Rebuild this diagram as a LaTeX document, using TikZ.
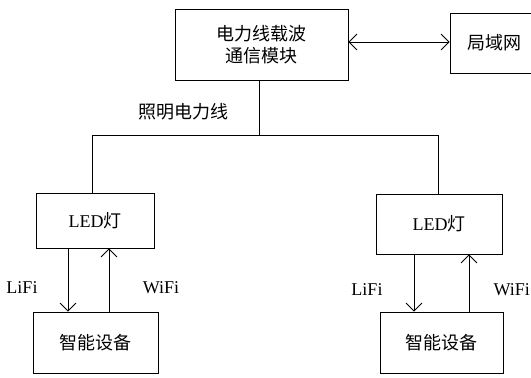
\documentclass[tikz,border=0pt]{standalone}
\usepackage{fontspec}
\setmainfont{Liberation Serif}
\newfontfamily\cjk{Noto Sans CJK SC}
\usetikzlibrary{arrows.meta}
\begin{document}
\begin{tikzpicture}[x=1pt,y=-1pt,
  box/.style={draw,line width=0.8pt,inner sep=0pt,font=\fontsize{18}{23}\selectfont},
  conn/.style={line width=0.8pt},
  arr/.style={line width=0.8pt,-{Straight Barb[length=8pt,width=16pt]}},
  dblarr/.style={line width=0.8pt,{Straight Barb[length=8pt,width=16pt]}-{Straight Barb[length=8pt,width=16pt]}},
  lbl/.style={inner sep=0pt,font=\fontsize{18}{23}\selectfont}]
\useasboundingbox (0,0) rectangle (531,378);
\clip (0,0) rectangle (531,378);
\fill[white] (0,0) rectangle (531,378);
\node[box,minimum width=173pt,minimum height=71pt,align=center] (plc) at (261.5,44.5) {\cjk 电力线载波\\[-1pt]\cjk 通信模块};
\node[box,minimum width=89pt,minimum height=60pt] (lan) at (494.5,43) {\cjk 局域网};
\node[box,minimum width=118pt,minimum height=55pt] (led1) at (95,220.5) {LED\cjk 灯};
\node[box,minimum width=126pt,minimum height=60pt] (led2) at (439,224) {LED\cjk 灯};
\node[box,minimum width=125pt,minimum height=61pt] (dev1) at (95.5,342.5) {\cjk 智能设备};
\node[box,minimum width=123pt,minimum height=61pt] (dev2) at (441.5,342.5) {\cjk 智能设备};
\coordinate (bus) at (259,135);
\coordinate (busL) at (92,135);
\coordinate (busR) at (438,135);
\draw[dblarr] (plc.east |- 0,42) -- (lan.west |- 0,42);
\draw[conn] (plc.south -| bus) -- (bus);
\draw[conn] (led1.north -| busL) -- (busL) -- (busR) -- (led2.north -| busR);
\node[lbl] (pl) at (183,112) {\cjk 照明电力线};
\draw[arr] (led1.south -| 68,0) -- (dev1.north -| 68,0);
\draw[arr] (dev1.north -| 109,0) -- (led1.south -| 109,0);
\draw[arr] (led2.south -| 414,0) -- (dev2.north -| 414,0);
\draw[arr] (dev2.north -| 469,0) -- (led2.south -| 469,0);
\node[lbl] (l1) at (22,288) {LiFi};
\node[lbl] (w1) at (161,288) {WiFi};
\node[lbl] (l2) at (367,290) {LiFi};
\node[lbl,anchor=east] (w2) at (530,290) {WiFi};
\end{tikzpicture}
\end{document}
